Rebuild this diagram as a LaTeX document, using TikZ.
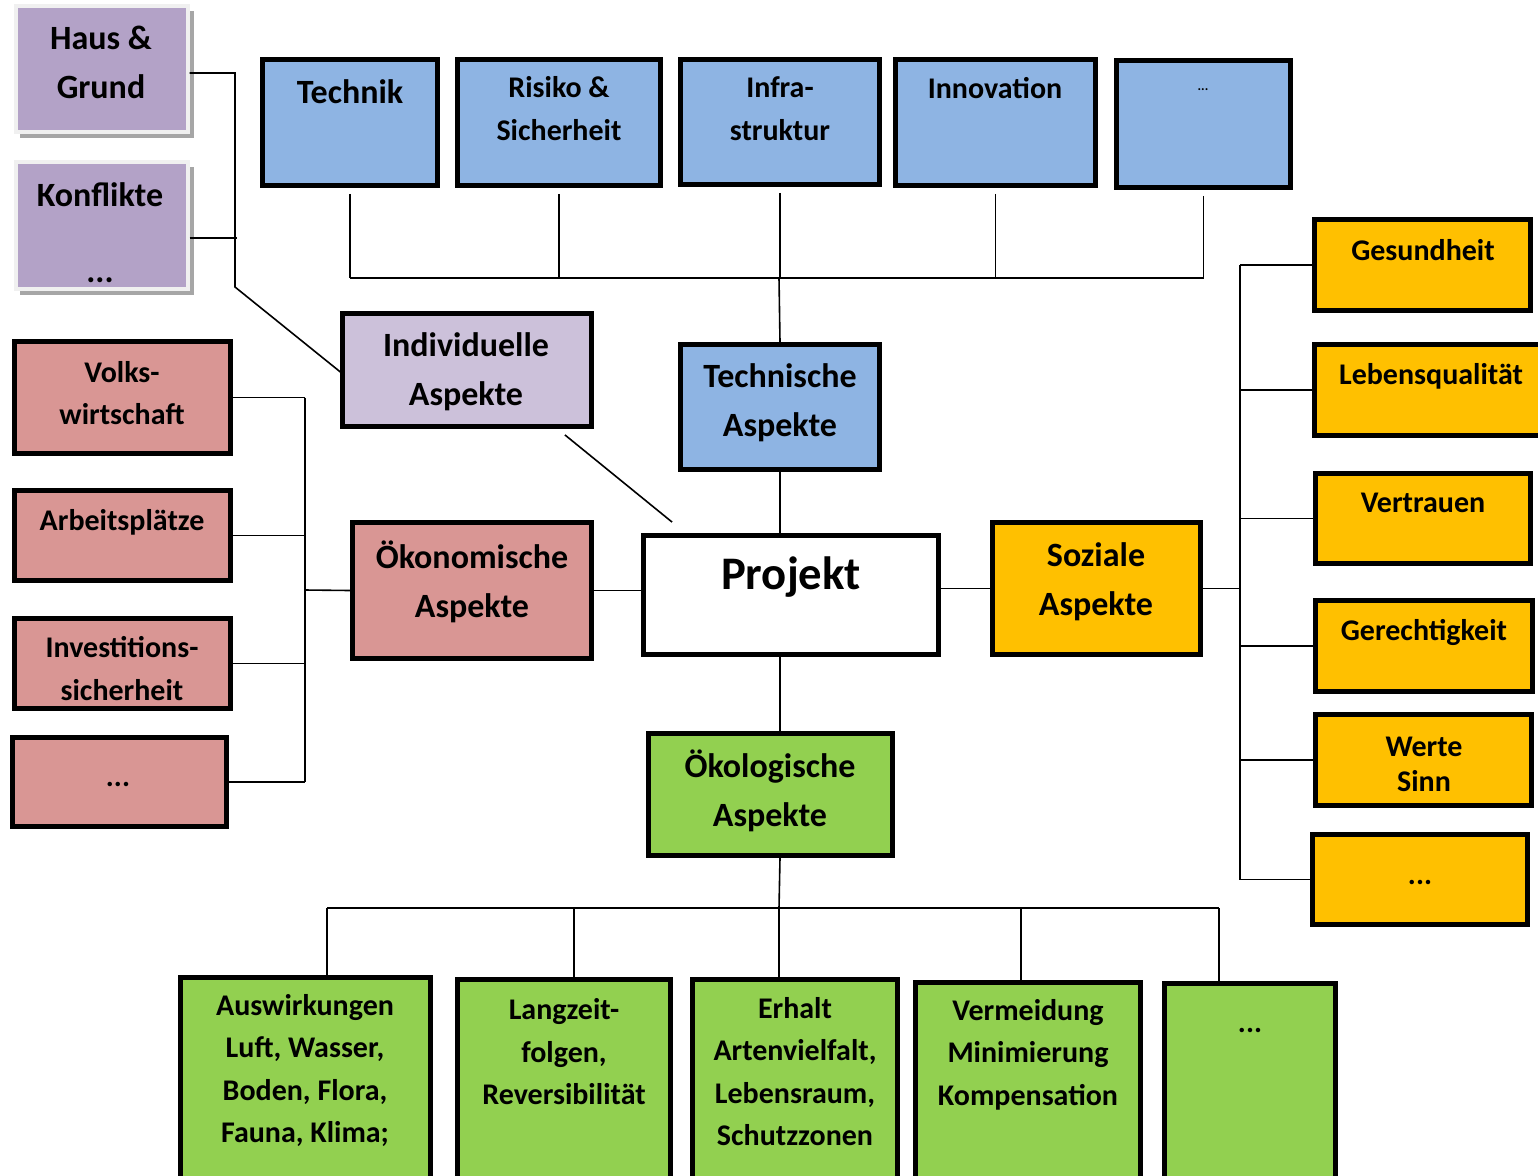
\documentclass[tikz,border=0pt]{standalone}
\usepackage{fontspec}
\setmainfont{Carlito}
\usetikzlibrary{fit,calc}
\definecolor{cblue}{HTML}{8EB4E3}
\definecolor{cred}{HTML}{D99694}
\definecolor{corange}{HTML}{FFC000}
\definecolor{cgreen}{HTML}{92D050}
\definecolor{cpurple}{HTML}{B3A2C7}
\definecolor{clpurple}{HTML}{CCC1DA}
\newcommand\mybox[6]{\node[#6, fit={(#2+2.5,#3+2.5)(#4-2.5,#5-2.5)}] (#1) {};}
\tikzset{
  bx/.style={draw=black, line width=3.6pt, inner sep=0pt},
  pbx/.style={draw=black!6, line width=3pt, inner sep=0pt, fill=cpurple},
  tl/.style={font=\fontsize{25.5}{36.75}\selectfont\bfseries, align=center, inner sep=0pt, yshift=-1.8pt},
  tm/.style={font=\fontsize{22.5}{31.9}\selectfont\bfseries, align=center, inner sep=0pt, yshift=-1.5pt},
  conn/.style={line width=1.2pt, draw=black},
}
\begin{document}
\begin{tikzpicture}[x=0.75pt,y=-0.75pt]
\fill[white] (0,0) rectangle (1538,1175);
\clip (0,0) rectangle (1538,1175);
% purple boxes with shadow
\fill[black!35] (20,11) rectangle (194,138);
\fill[black!35] (20,167) rectangle (194,295);
\mybox{haus}{13}{3}{190}{134}{pbx}
\mybox{konf}{13}{159}{190}{291}{pbx}
\node[tl, yshift=1.5pt] (haus-t) at (101,61.5) {Haus \&\\Grund};
\node[tl] (konf-t) at (100,230) {Konflikte\\[20pt]...};
% top blue row
\mybox{tech}{260}{57}{440}{188}{bx, fill=cblue}
\mybox{risk}{455}{57}{663}{188}{bx, fill=cblue}
\mybox{infra}{678}{57}{882}{187}{bx, fill=cblue}
\mybox{innov}{893}{57}{1098}{188}{bx, fill=cblue}
\mybox{bdots}{1114}{58}{1293}{190}{bx, fill=cblue}
\node[tl, yshift=1.5pt] (tech-t) at (350,91) {Technik};
\node[tm, yshift=1.5pt] (risk-t) at (559,108.5) {Risiko \&\\Sicherheit};
\node[tm, yshift=1.5pt] (infra-t) at (780,108.5) {Infra-\\struktur};
\node[tm, yshift=1.5pt] (innov-t) at (995,88) {Innovation};
\node[font=\fontsize{10}{12}\selectfont\bfseries, inner sep=0pt] (bdots-t) at (1203,90) {...};
% middle
\mybox{indiv}{340}{311}{594}{429}{bx, fill=clpurple}
\node[tl] (indiv-t) at (466,369.5) {Individuelle\\Aspekte};
\mybox{techasp}{678}{342}{882}{472}{bx, fill=cblue}
\node[tl] (techasp-t) at (780,400.5) {Technische\\Aspekte};
\mybox{proj}{641}{533}{941}{657}{bx, fill=white}
\node[font=\fontsize{35}{40}\selectfont\bfseries, inner sep=0pt] (proj-t) at (791,577) {Projekt};
\mybox{oekon}{350}{520}{594}{661}{bx, fill=cred}
\node[tl] (oekon-t) at (472,579) {Ökonomische\\Aspekte};
\mybox{soz}{990}{520}{1203}{657}{bx, fill=corange}
\node[tl] (soz-t) at (1096,579) {Soziale\\Aspekte};
\mybox{oekol}{646}{731}{895}{858}{bx, fill=cgreen}
\node[tl] (oekol-t) at (770,788.5) {Ökologische\\Aspekte};
% left red
\mybox{volks}{12}{339}{233}{456}{bx, fill=cred}
\mybox{arbeit}{12}{488}{233}{583}{bx, fill=cred}
\mybox{invest}{12}{616}{233}{711}{bx, fill=cred}
\mybox{rdots}{10}{735}{229}{829}{bx, fill=cred}
\node[tm] (volks-t) at (122,391) {Volks-\\wirtschaft};
\node[tm] (arbeit-t) at (122,520) {Arbeitsplätze};
\node[tm, yshift=1.5pt] (invest-t) at (122,668.5) {Investitions-\\sicherheit};
\node[tm] (rdots-t) at (118,782) {...};
% right orange
\mybox{ges}{1312}{217}{1533}{313}{bx, fill=corange}
\mybox{leb}{1312}{342}{1548}{438}{bx, fill=corange}
\mybox{vert}{1313}{471}{1533}{566}{bx, fill=corange}
\mybox{ger}{1313}{598}{1535}{694}{bx, fill=corange}
\mybox{werte}{1313}{712}{1534}{808}{bx, fill=corange}
\mybox{odots}{1310}{832}{1530}{927}{bx, fill=corange}
\node[tm, yshift=1.5pt] (ges-t) at (1423,250) {Gesundheit};
\node[tm] (leb-t) at (1431,374) {Lebensqualität};
\node[tm, yshift=1.5pt] (vert-t) at (1423,503) {Vertrauen};
\node[tm] (ger-t) at (1424,630) {Gerechtigkeit};
\node[tm, font=\fontsize{22.5}{26.25}\selectfont\bfseries] (werte-t) at (1424,762.5) {Werte\\Sinn};
\node[tm] (odots-t) at (1420,880) {...};
% bottom green
\mybox{ausw}{178}{975}{433}{1195}{bx, fill=cgreen}
\mybox{lang}{455}{977}{673}{1195}{bx, fill=cgreen}
\mybox{erh}{690}{977}{900}{1195}{bx, fill=cgreen}
\mybox{verm}{913}{980}{1143}{1195}{bx, fill=cgreen}
\mybox{gdots}{1162}{981}{1338}{1195}{bx, fill=cgreen}
\node[tm] (ausw-t) at (305,1068.5) {Auswirkungen\\Luft, Wasser,\\Boden, Flora,\\Fauna, Klima;};
\node[tm] (lang-t) at (564,1050) {Langzeit-\\folgen,\\Reversibilität};
\node[tm, yshift=1.2pt] (erh-t) at (795,1071) {Erhalt\\Artenvielfalt,\\Lebensraum,\\Schutzzonen};
\node[tm] (verm-t) at (1028,1052.5) {Vermeidung\\Minimierung\\Kompensation};
\node[tm] (gdots-t) at (1250,1028) {...};
% connectors: purple
\coordinate (pb) at (235,287);
\draw[conn] ($(haus.east)+(0,4.5)$) -| (pb) -- ($(indiv.west)+(4,5)$);
\draw[conn] ($(konf.east)+(0,13)$) -- ($(konf.east)+(47,13)$);
\draw[conn] ($(indiv.south east)+(-29,6)$) -- ($(proj.north west)+(31,-11)$);
% top bus
\coordinate (tbus) at (779,278);
\foreach \n in {tech,risk,infra,innov,bdots}{
  \draw[conn] ($(\n.south)+(0,6)$) -- (\n.south |- tbus);
}
\draw[conn] (tech.south |- tbus) -- (bdots.south |- tbus);
\draw[conn] (tbus) -- (techasp.north);
\draw[conn] (techasp.south) -- (techasp.south |- proj.north);
% left bus
\coordinate (lbus) at (305,590);
\draw[conn] (oekon.east) -- (oekon.east -| proj.west);
\draw[conn] (oekon.west) -- (lbus);
\draw[conn] (volks.east -| lbus) -- (rdots.east -| lbus);
\foreach \n in {volks,arbeit,invest,rdots}{
  \draw[conn] (\n.east) -- (\n.east -| lbus);
}
% right bus
\coordinate (rbus) at (1240,583);
\draw[conn] (soz.west -| proj.east) -- (soz.west);
\draw[conn] (soz.east) -- (soz.east -| rbus);
\draw[conn] (ges.west -| rbus) -- (odots.west -| rbus);
\foreach \n in {ges,leb,vert,ger,werte,odots}{
  \draw[conn] (\n.west) -- (\n.west -| rbus);
}
% bottom bus
\draw[conn] (techasp.south |- proj.south) -- (techasp.south |- oekol.north);
\coordinate (gb0) at (779,908);
\coordinate (gb1) at (327,908);
\coordinate (gb2) at (574,908);
\coordinate (gb3) at (779,908);
\coordinate (gb4) at (1021,908);
\coordinate (gb5) at (1219,908);
\draw[conn] (techasp.south |- oekol.south) -- (gb0);
\draw[conn] (gb1) -- (gb5);
\draw[conn] (gb1) -- (gb1 |- ausw.north);
\draw[conn] (gb2) -- (gb2 |- lang.north);
\draw[conn] (gb3) -- (gb3 |- erh.north);
\draw[conn] (gb4) -- (gb4 |- verm.north);
\draw[conn] (gb5) -- (gb5 |- gdots.north);
\end{tikzpicture}
\end{document}
